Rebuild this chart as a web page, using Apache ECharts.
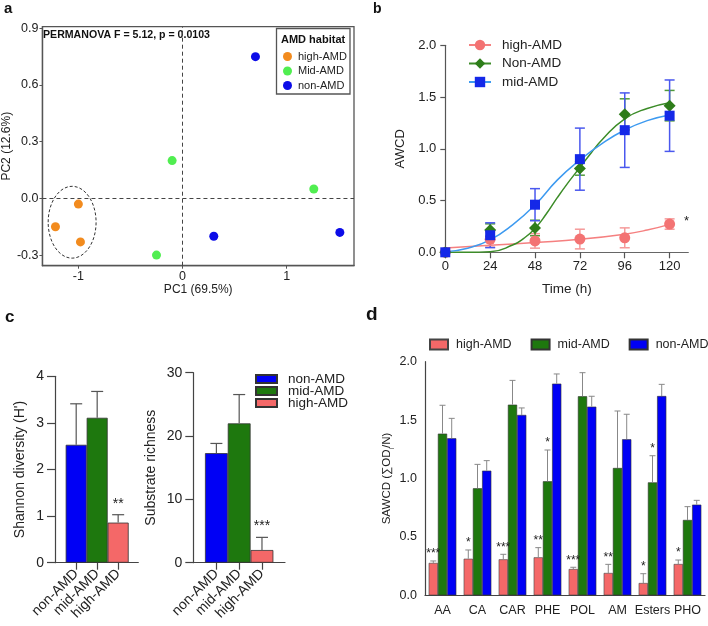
<!DOCTYPE html>
<html>
<head>
<meta charset="utf-8">
<script src="https://cdn.jsdelivr.net/npm/echarts@6/dist/echarts.min.js"></script>
<style>
  html, body { margin: 0; padding: 0; background: #fff; }
  #chart { width: 708px; height: 626px; }
</style>
</head>
<body>
<div id="chart"></div>
<script>
// ---- panel a: PCoA scores [PC1, PC2]
const pcHigh = [[-1.0, -0.03], [-1.22, -0.15], [-0.98, -0.23]]
const pcMid = [[-0.1, 0.2], [-0.25, -0.3], [1.26, 0.05]]
const pcNon = [[0.7, 0.75], [0.3, -0.2], [1.51, -0.18]]
const highEllipse = [[-1.06, -0.126, 0.23, 0.19]] // cx, cy, rx, ry (data units)
const pc1Ticks = [-1, 0, 1]
const pc2Ticks = [-0.3, 0, 0.3, 0.6, 0.9]

// ---- panel b: AWCD over time
const hours = [0, 24, 48, 72, 96, 120]
const awcdHigh = [0, 0.125, 0.11, 0.128, 0.14, 0.273]
const awcdHighErr = [0, 0.075, 0.07, 0.095, 0.096, 0.05]
const awcdNon = [0, 0.215, 0.235, 0.81, 1.333, 1.417]
const awcdNonErr = [0, 0.06, 0.075, 0.065, 0.15, 0.147]
const awcdMid = [0, 0.165, 0.46, 0.9, 1.18, 1.32]
const awcdMidErr = [0, 0.12, 0.155, 0.3, 0.36, 0.345]
const awcdStars = ['', '', '', '', '', '*']
// fitted curves
const fitHighH = [0, 24, 48, 72, 96, 108, 120]
const fitHigh = [0.042, 0.068, 0.095, 0.125, 0.175, 0.215, 0.27]
const fitNonH = [0, 12, 24, 36, 42, 48, 54, 60, 66, 72, 78, 84, 96, 108, 120]
const fitNon = [0, 0, 0.005, 0.07, 0.135, 0.231, 0.37, 0.53, 0.68, 0.82, 0.96, 1.09, 1.29, 1.39, 1.446]
const fitMidH = [0, 12, 24, 36, 48, 60, 72, 84, 96, 108, 120]
const fitMid = [0.005, 0.04, 0.12, 0.265, 0.457, 0.7, 0.892, 1.053, 1.182, 1.272, 1.327]

// ---- panel c: diversity
const groups = ['non-AMD', 'mid-AMD', 'high-AMD']
const shannon = [2.53, 3.11, 0.86]
const shannonErr = [0.88, 0.565, 0.17]
const shannonStars = ['', '', '**']
const richness = [17.3, 22.0, 2.0]
const richnessErr = [1.53, 4.55, 2.0]
const richnessStars = ['', '', '***']

// ---- panel d: SAWCD per substrate guild
const substrates = ['AA', 'CA', 'CAR', 'PHE', 'POL', 'AM', 'Esters', 'PHO']
const sawcdHigh = [0.277, 0.313, 0.308, 0.325, 0.225, 0.191, 0.105, 0.268]
const sawcdHighErr = [0.017, 0.075, 0.043, 0.083, 0.015, 0.074, 0.08, 0.034]
const sawcdMid = [1.384, 0.916, 1.632, 0.976, 1.704, 1.09, 0.967, 0.645]
const sawcdMidErr = [0.243, 0.205, 0.208, 0.268, 0.202, 0.488, 0.228, 0.114]
const sawcdNon = [1.344, 1.067, 1.544, 1.812, 1.615, 1.336, 1.706, 0.776]
const sawcdNonErr = [0.171, 0.086, 0.06, 0.083, 0.089, 0.214, 0.1, 0.037]
const sawcdHighStars = ['***', '*', '***', '**', '***', '**', '*', '*']
const sawcdMidStars = ['', '', '', '*', '', '', '*', '']

const font = 'Liberation Sans, Arial, Helvetica, sans-serif'
const ink = '#222'
const axisCol = '#444'
const cBlue = '#0000F5', cGreen = '#1E780E', cRed = '#F46868'

const chart = echarts.init(document.getElementById('chart'))

// error bars (+ optional stars) drawn through the axes
function errorBars (opt) {
  return function (params, api) {
    const i = params.dataIndex
    const x = api.value(0)
    const y = api.value(1)
    const e = opt.errs[i]
    let dx = 0
    if (opt.shift) dx = opt.shift * api.size([1, 0])[0] * 0.79 / 3
    const top = api.coord([x, y + e])
    const bot = api.coord([x, opt.both ? y - e : y])
    const cx = top[0] + dx
    const style = { stroke: opt.color, lineWidth: opt.width }
    const kids = []
    if (e > 0) {
      kids.push({ type: 'line', shape: { x1: cx, y1: top[1], x2: cx, y2: bot[1] }, style })
      kids.push({ type: 'line', shape: { x1: cx - opt.cap / 2, y1: top[1], x2: cx + opt.cap / 2, y2: top[1] }, style })
      if (opt.both) {
        kids.push({ type: 'line', shape: { x1: cx - opt.cap / 2, y1: bot[1], x2: cx + opt.cap / 2, y2: bot[1] }, style })
      }
    }
    const star = opt.stars && opt.stars[i]
    if (star) {
      kids.push({
        type: 'text',
        x: cx + (opt.starDx || 0),
        y: top[1] - opt.starGap,
        style: { text: star, fill: ink, fontSize: opt.starSize, fontFamily: font, align: 'center', verticalAlign: 'bottom' }
      })
    }
    return { type: 'group', children: kids }
  }
}

function pairs (xs, ys) {
  return xs.map((x, i) => [x, ys[i]])
}

function valAxis (o) {
  return Object.assign({
    type: 'value',
    splitLine: { show: false },
    axisLine: { show: true, onZero: false, lineStyle: { color: axisCol, width: 1.2 } },
    axisTick: { show: true, lineStyle: { color: axisCol, width: 1.2 } },
    axisLabel: { color: ink, fontFamily: font },
    nameLocation: 'middle',
    nameTextStyle: { color: ink, fontFamily: font }
  }, o)
}

const option = {
  animation: false,
  backgroundColor: '#fff',
  textStyle: { fontFamily: font },
  grid: [
    { left: 39.3, top: 26.7, width: 314.7, height: 239, show: true, borderColor: '#555', borderWidth: 1.3 },
    { left: 445.3, top: 45.3, width: 243, height: 207 },
    { left: 55, top: 376.3, width: 83.3, height: 186.4 },
    { left: 193.3, top: 372.7, width: 91.7, height: 190 },
    { left: 425, top: 361.7, width: 280, height: 233.6 }
  ],
  xAxis: [
    valAxis({
      gridIndex: 0, min: -1.345, max: 1.646, name: 'PC1 (69.5%)', nameGap: 15,
      nameTextStyle: { color: ink, fontFamily: font, fontSize: 12 },
      axisTick: { length: 3, customValues: pc1Ticks, lineStyle: { color: '#555' } },
      axisLabel: { customValues: pc1Ticks, fontSize: 12.5, margin: 4, color: ink, fontFamily: font },
      axisLine: { show: true, onZero: false, lineStyle: { color: '#555', width: 1.3 } }
    }),
    valAxis({
      gridIndex: 1, min: 0, max: 130, name: 'Time (h)', nameGap: 30,
      nameTextStyle: { color: ink, fontFamily: font, fontSize: 13.5 },
      axisTick: { length: 6, customValues: hours, lineStyle: { color: '#555', width: 1.2 } },
      axisLabel: { customValues: hours, fontSize: 13, margin: 8, color: ink, fontFamily: font },
      axisLine: { show: true, onZero: false, lineStyle: { color: '#666', width: 1.2 } }
    }),
    valAxis({
      gridIndex: 2, min: -1.01, max: 2.96,
      axisTick: { length: 7, customValues: [0, 1, 2], lineStyle: { color: axisCol, width: 1.2 } },
      axisLabel: { customValues: [0, 1, 2], formatter: v => groups[v], rotate: 45, fontSize: 14, margin: 9, color: ink, fontFamily: font }
    }),
    valAxis({
      gridIndex: 3, min: -1.013, max: 3.01,
      axisTick: { length: 7, customValues: [0, 1, 2], lineStyle: { color: axisCol, width: 1.2 } },
      axisLabel: { customValues: [0, 1, 2], formatter: v => groups[v], rotate: 45, fontSize: 14, margin: 9, color: ink, fontFamily: font }
    }),
    {
      gridIndex: 4, type: 'category', data: substrates,
      axisLine: { lineStyle: { color: axisCol, width: 1.2 } },
      axisTick: { alignWithLabel: true, length: 5, lineStyle: { color: axisCol, width: 1.2 } },
      axisLabel: { interval: 0, fontSize: 12.5, margin: 9, color: ink, fontFamily: font }
    }
  ],
  yAxis: [
    valAxis({
      gridIndex: 0, min: -0.356, max: 0.9085, name: 'PC2 (12.6%)', nameGap: 24,
      nameTextStyle: { color: ink, fontFamily: font, fontSize: 12 },
      axisTick: { length: 3, customValues: pc2Ticks, lineStyle: { color: '#555' } },
      axisLabel: { customValues: pc2Ticks, formatter: v => v.toFixed(1), fontSize: 12.5, margin: 4, color: ink, fontFamily: font },
      axisLine: { show: true, onZero: false, lineStyle: { color: '#555', width: 1.3 } }
    }),
    valAxis({
      gridIndex: 1, min: 0, max: 2, interval: 0.5, name: 'AWCD', nameGap: 38,
      nameTextStyle: { color: ink, fontFamily: font, fontSize: 13 },
      axisTick: { length: 5, lineStyle: { color: '#555', width: 1.2 } },
      axisLabel: { formatter: v => v.toFixed(1), fontSize: 13, margin: 9, color: ink, fontFamily: font },
      axisLine: { show: true, onZero: false, lineStyle: { color: '#555', width: 1.2 } }
    }),
    valAxis({
      gridIndex: 2, min: 0, max: 4, interval: 1, name: "Shannon diversity (H')", nameGap: 28,
      nameTextStyle: { color: ink, fontFamily: font, fontSize: 14 },
      axisTick: { length: 8, lineStyle: { color: axisCol, width: 1.2 } },
      axisLabel: { fontSize: 14, margin: 11, color: ink, fontFamily: font }
    }),
    valAxis({
      gridIndex: 3, min: 0, max: 30, interval: 10, name: 'Substrate richness', nameGap: 35,
      nameTextStyle: { color: ink, fontFamily: font, fontSize: 14 },
      axisTick: { length: 8, lineStyle: { color: axisCol, width: 1.2 } },
      axisLabel: { fontSize: 14, margin: 11, color: ink, fontFamily: font }
    }),
    valAxis({
      gridIndex: 4, min: 0, max: 2, interval: 0.5, name: 'SAWCD (∑OD{s|i}/N)', nameGap: 32,
      nameTextStyle: {
        color: ink, fontFamily: font, fontSize: 11.5,
        rich: { s: { fontSize: 7, color: ink, fontFamily: font, verticalAlign: 'bottom', padding: [0, 0, -3, 0] } }
      },
      axisTick: { length: 5, lineStyle: { color: axisCol, width: 1.2 } },
      axisLabel: { formatter: v => v.toFixed(1), fontSize: 12.5, margin: 8, color: ink, fontFamily: font }
    })
  ],
  legend: [
    {
      data: ['a:high-AMD', 'a:Mid-AMD', 'a:non-AMD'], formatter: n => n.slice(2),
      orient: 'vertical', left: 283, top: 51, icon: 'circle', itemWidth: 9, itemHeight: 9, itemGap: 3.5,
      padding: 0, textStyle: { fontSize: 11, color: ink, fontFamily: font, padding: [0, 0, 0, 1] }
    },
    {
      data: ['b:high-AMD', 'b:Non-AMD', 'b:mid-AMD'], formatter: n => n.slice(2),
      orient: 'vertical', left: 468, top: 38, itemWidth: 22, itemHeight: 13, itemGap: 4.5,
      padding: 0, textStyle: { fontSize: 13.5, color: ink, fontFamily: font, padding: [0, 0, 0, 6] }
    },
    {
      data: ['c:non-AMD', 'c:mid-AMD', 'c:high-AMD'], formatter: n => n.slice(2),
      orient: 'vertical', left: 255, top: 372, icon: 'rect', itemWidth: 21, itemHeight: 8, itemGap: -2,
      padding: 0, textStyle: { fontSize: 13.5, color: ink, fontFamily: font, padding: [0, 0, 0, 6] }
    },
    {
      data: ['d:high-AMD', 'd:mid-AMD', 'd:non-AMD'], formatter: n => n.slice(2),
      orient: 'horizontal', left: 429, top: 338, width: 300, icon: 'rect', itemWidth: 18, itemHeight: 10, itemGap: 19,
      padding: 0, textStyle: { fontSize: 12.5, color: ink, fontFamily: font, padding: [0, 0, 0, 3] }
    }
  ],
  graphic: [
    { type: 'text', left: 4, top: 1, style: { text: 'a', font: 'bold 15px ' + font, fill: '#111' } },
    { type: 'text', left: 373, top: 2, style: { text: 'b', font: 'bold 14px ' + font, fill: '#111' } },
    { type: 'text', left: 5, top: 309, style: { text: 'c', font: 'bold 17px ' + font, fill: '#111' } },
    { type: 'text', left: 366, top: 305, style: { text: 'd', font: 'bold 19px ' + font, fill: '#111' } },
    { type: 'text', left: 43, top: 30, style: { text: 'PERMANOVA F = 5.12, p = 0.0103', font: 'bold 10.6px ' + font, fill: '#111' } },
    { type: 'rect', shape: { x: 276.5, y: 28.5, width: 73.5, height: 65.5 }, style: { fill: '#fff', stroke: '#555', lineWidth: 1.3 }, z: 1 },
    { type: 'text', left: 281, top: 34, style: { text: 'AMD habitat', font: 'bold 11px ' + font, fill: '#111' }, z: 2 }
  ],
  series: [
    // ---- a
    {
      name: 'a:high-AMD', type: 'scatter', xAxisIndex: 0, yAxisIndex: 0, data: pcHigh,
      symbolSize: 9, itemStyle: { color: '#F28B1E', opacity: 1 },
      markLine: {
        silent: true, symbol: 'none', label: { show: false },
        lineStyle: { color: '#444', type: [4, 3], width: 1 },
        data: [{ xAxis: 0 }, { yAxis: 0 }]
      }
    },
    { name: 'a:Mid-AMD', type: 'scatter', xAxisIndex: 0, yAxisIndex: 0, data: pcMid, symbolSize: 9, itemStyle: { color: '#50EE50', opacity: 1 } },
    { name: 'a:non-AMD', type: 'scatter', xAxisIndex: 0, yAxisIndex: 0, data: pcNon, symbolSize: 9, itemStyle: { color: '#0C0CE8', opacity: 1 } },
    {
      name: 'a:ellipse', type: 'custom', xAxisIndex: 0, yAxisIndex: 0, data: highEllipse,
      renderItem: (params, api) => {
        const c = api.coord([api.value(0), api.value(1)])
        const s = api.size([api.value(2), api.value(3)])
        return {
          type: 'ellipse',
          shape: { cx: c[0], cy: c[1], rx: s[0], ry: s[1] },
          style: { fill: 'none', stroke: '#333', lineWidth: 1, lineDash: [3, 2] }
        }
      }
    },
    // ---- b
    {
      name: 'b:errHigh', type: 'custom', xAxisIndex: 1, yAxisIndex: 1, data: pairs(hours, awcdHigh), z: 1,
      renderItem: errorBars({ errs: awcdHighErr, both: true, cap: 10, color: '#F59A9A', width: 1.5, stars: awcdStars, starSize: 13, starGap: -9, starDx: 17 })
    },
    {
      name: 'b:errNon', type: 'custom', xAxisIndex: 1, yAxisIndex: 1, data: pairs(hours, awcdNon), z: 1,
      renderItem: errorBars({ errs: awcdNonErr, both: true, cap: 10, color: '#4E9A3A', width: 1.5 })
    },
    {
      name: 'b:errMid', type: 'custom', xAxisIndex: 1, yAxisIndex: 1, data: pairs(hours, awcdMid), z: 1,
      renderItem: errorBars({ errs: awcdMidErr, both: true, cap: 10, color: '#4A58EE', width: 1.5 })
    },
    {
      name: 'b:high-AMD', type: 'line', xAxisIndex: 1, yAxisIndex: 1, data: pairs(fitHighH, fitHigh),
      smooth: true, showSymbol: false, symbol: 'circle', itemStyle: { color: '#F37373' },
      lineStyle: { color: '#F58080', width: 1.5 }, z: 2
    },
    {
      name: 'b:Non-AMD', type: 'line', xAxisIndex: 1, yAxisIndex: 1, data: pairs(fitNonH, fitNon),
      smooth: true, showSymbol: false, symbol: 'diamond', itemStyle: { color: '#2E7D1A' },
      lineStyle: { color: '#3C8C28', width: 1.5 }, z: 2
    },
    {
      name: 'b:mid-AMD', type: 'line', xAxisIndex: 1, yAxisIndex: 1, data: pairs(fitMidH, fitMid),
      smooth: true, showSymbol: false, symbol: 'rect', itemStyle: { color: '#1428E8' },
      lineStyle: { color: '#3D9AF0', width: 1.5 }, z: 2
    },
    { name: 'b:high-AMD', type: 'scatter', xAxisIndex: 1, yAxisIndex: 1, data: pairs(hours, awcdHigh), symbol: 'circle', symbolSize: 11, itemStyle: { color: '#F37373', opacity: 1 }, z: 3 },
    { name: 'b:Non-AMD', type: 'scatter', xAxisIndex: 1, yAxisIndex: 1, data: pairs(hours, awcdNon), symbol: 'diamond', symbolSize: 12, itemStyle: { color: '#2E7D1A', opacity: 1 }, z: 3 },
    { name: 'b:mid-AMD', type: 'scatter', xAxisIndex: 1, yAxisIndex: 1, data: pairs(hours, awcdMid), symbol: 'rect', symbolSize: 10, itemStyle: { color: '#1428E8', opacity: 1 }, z: 3 },
    // ---- c (left: Shannon, right: richness)
    ...groups.map((g, i) => ({
      name: 'c:' + g, type: 'bar', xAxisIndex: 2, yAxisIndex: 2, data: [[i, shannon[i]]],
      barWidth: 21, barGap: '-100%', itemStyle: { color: [cBlue, cGreen, cRed][i], borderColor: '#333', borderWidth: 0.8 }
    })),
    ...groups.map((g, i) => ({
      name: 'c:' + g, type: 'bar', xAxisIndex: 3, yAxisIndex: 3, data: [[i, richness[i]]],
      barWidth: 22.8, barGap: '-100%', itemStyle: { color: [cBlue, cGreen, cRed][i], borderColor: '#333', borderWidth: 0.8 }
    })),
    {
      name: 'c:errL', type: 'custom', xAxisIndex: 2, yAxisIndex: 2, data: pairs([0, 1, 2], shannon), z: 3,
      renderItem: errorBars({ errs: shannonErr, cap: 12, color: '#555', width: 1.2, stars: shannonStars, starSize: 14, starGap: 4 })
    },
    {
      name: 'c:errR', type: 'custom', xAxisIndex: 3, yAxisIndex: 3, data: pairs([0, 1, 2], richness), z: 3,
      renderItem: errorBars({ errs: richnessErr, cap: 12, color: '#555', width: 1.2, stars: richnessStars, starSize: 14, starGap: 4 })
    },
    // ---- d
    {
      name: 'd:high-AMD', type: 'bar', xAxisIndex: 4, yAxisIndex: 4, data: sawcdHigh,
      barGap: '0%', barCategoryGap: '21%', itemStyle: { color: cRed, borderColor: '#444', borderWidth: 0.6 }
    },
    {
      name: 'd:mid-AMD', type: 'bar', xAxisIndex: 4, yAxisIndex: 4, data: sawcdMid,
      barGap: '0%', barCategoryGap: '21%', itemStyle: { color: cGreen, borderColor: '#333', borderWidth: 0.6 }
    },
    {
      name: 'd:non-AMD', type: 'bar', xAxisIndex: 4, yAxisIndex: 4, data: sawcdNon,
      barGap: '0%', barCategoryGap: '21%', itemStyle: { color: cBlue, borderColor: '#333', borderWidth: 0.6 }
    },
    {
      name: 'd:errHigh', type: 'custom', xAxisIndex: 4, yAxisIndex: 4, data: pairs(substrates.map((s, i) => i), sawcdHigh), z: 3,
      renderItem: errorBars({ errs: sawcdHighErr, shift: -1, cap: 6, color: '#888', width: 1, stars: sawcdHighStars, starSize: 12, starGap: 1 })
    },
    {
      name: 'd:errMid', type: 'custom', xAxisIndex: 4, yAxisIndex: 4, data: pairs(substrates.map((s, i) => i), sawcdMid), z: 3,
      renderItem: errorBars({ errs: sawcdMidErr, shift: 0, cap: 6, color: '#888', width: 1, stars: sawcdMidStars, starSize: 12, starGap: 1 })
    },
    {
      name: 'd:errNon', type: 'custom', xAxisIndex: 4, yAxisIndex: 4, data: pairs(substrates.map((s, i) => i), sawcdNon), z: 3,
      renderItem: errorBars({ errs: sawcdNonErr, shift: 1, cap: 6, color: '#888', width: 1 })
    }
  ]
}

chart.setOption(option)
</script>
</body>
</html>
